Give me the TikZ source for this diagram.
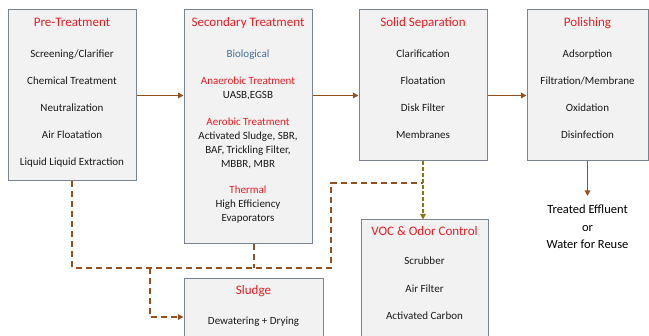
\documentclass[tikz,border=0pt]{standalone}
\usepackage{fontspec}
\setmainfont{Carlito}
\usetikzlibrary{arrows.meta,positioning}
\definecolor{boxline}{RGB}{120,132,146}
\definecolor{boxfill}{RGB}{242,242,242}
\definecolor{ttlred}{RGB}{232,30,37}
\definecolor{subblue}{RGB}{70,110,150}
\definecolor{pipe}{RGB}{150,80,30}
\definecolor{ventline}{RGB}{130,120,20}
\newcommand{\ttl}[1]{{\fontsize{13}{14}\selectfont\color{ttlred}#1}}
\newcommand{\grp}[1]{{\color{ttlred}#1}}

\begin{document}
\begin{tikzpicture}[x=1pt, y=-1pt, >={Triangle[length=5.5pt,width=5.5pt]},
  stage/.style={draw=boxline, fill=boxfill, line width=1pt, inner sep=0pt},
  txt/.style={align=center, inner sep=0pt, text=black!90, font=\fontsize{11}{14}\selectfont},
  flow/.style={draw=pipe, line width=1.8pt, ->},
  drain/.style={draw=pipe, line width=1.5pt, dash pattern=on 6pt off 4pt},
  vent/.style={draw=ventline, line width=1.2pt, dash pattern=on 4pt off 2pt, ->},
]
\useasboundingbox (0,0) rectangle (649,336);
% stages
\node[stage, minimum width=128pt, minimum height=171pt] (pre) at (72,95.5) {};
\node[stage, minimum width=128pt, minimum height=234pt] (sec) at (248,127) {};
\node[stage, minimum width=128pt, minimum height=151pt] (sol) at (423,85.5) {};
\node[stage, minimum width=121pt, minimum height=151pt] (pol) at (587.5,85.5) {};
\node[stage, minimum width=127pt, minimum height=130pt] (voc) at (424.5,285) {};
\node[stage, minimum width=139pt, minimum height=76pt] (sludge) at (253.5,317) {};
% contents
\node[txt, below=8pt of pre.north] (pretxt) {\ttl{Pre-Treatment}\\[17pt]
  Screening/Clarifier\\[13pt] Chemical Treatment\\[13pt] Neutralization\\[13pt]
  Air Floatation\\[13pt] Liquid Liquid Extraction};
\node[txt, below=8pt of sec.north] (sectxt) {\ttl{Secondary Treatment}\\[17pt]
  {\color{subblue}Biological}\\[13pt]
  \grp{Anaerobic Treatment}\\ UASB,EGSB\\[13pt]
  \grp{Aerobic Treatment}\\ Activated Sludge, SBR,\\ BAF, Trickling Filter,\\ MBBR, MBR\\[12pt]
  \grp{Thermal}\\ High Efficiency\\ Evaporators};
\node[txt, below=8pt of sol.north] (soltxt) {\ttl{Solid Separation}\\[17pt]
  Clarification\\[13pt] Floatation\\[13pt] Disk Filter\\[13pt] Membranes};
\node[txt, below=8pt of pol.north] (poltxt) {\ttl{Polishing}\\[17pt]
  Adsorption\\[13pt] Filtration/Membrane\\[13pt] Oxidation\\[13pt] Disinfection};
\node[txt, below=7pt of voc.north] (voctxt) {\ttl{VOC \& Odor Control}\\[15pt]
  Scrubber\\[14pt] Air Filter\\[13pt] Activated Carbon};
\node[txt, below=7pt of sludge.north] (sludgetxt) {\ttl{Sludge}\\[16pt] Dewatering + Drying};
\node[txt, font=\fontsize{12.5}{17.5}\selectfont, text=black] (out) at (587.5,227)
  {Treated Effluent\\ or\\ Water for Reuse};
% main line
\draw[flow] (pre.east) -- (pre.east -| sec.west);
\draw[flow] (sec.east |- pre.east) -- (sol.west |- pre.east);
\draw[flow] (sol.east |- pre.east) -- (pol.west |- pre.east);
\draw[flow, shorten >=9pt] (pol.south) -- (out.north);
% residues
\coordinate (rise) at (331,268);
\coordinate (split) at (150,268);
\coordinate (tap) at (423,183);
\draw[drain] (pre.south) |- (rise) |- (tap);
\draw[drain] ([xshift=6pt]sec.south) -- ([xshift=6pt]sec.south |- rise);
\draw[drain, ->] (split) |- (sludge.west);
\draw[vent] (sol.south) -- (sol.south |- voc.north);
\end{tikzpicture}
\end{document}
